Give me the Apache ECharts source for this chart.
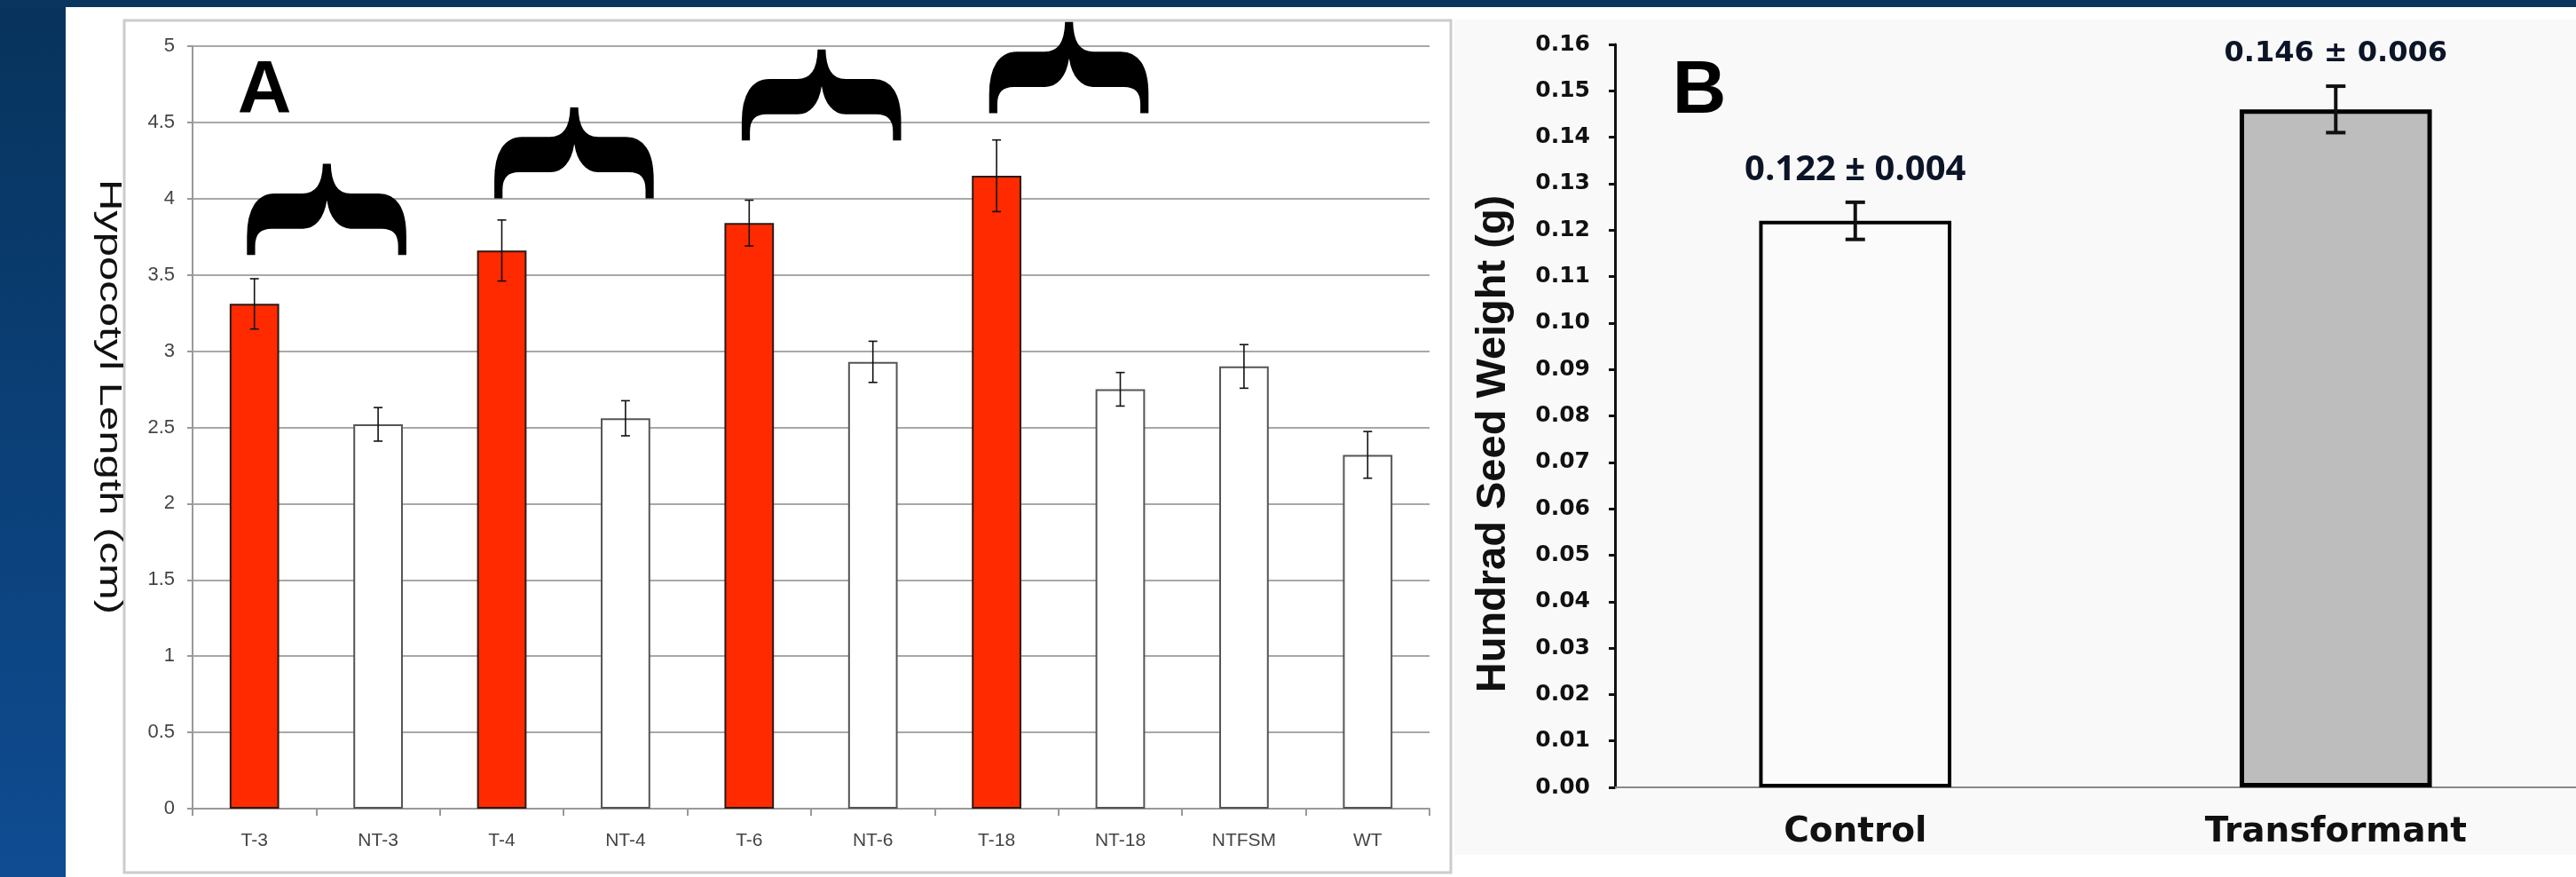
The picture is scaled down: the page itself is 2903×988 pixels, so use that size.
<!DOCTYPE html>
<html><head><meta charset="utf-8">
<script src="https://cdn.jsdelivr.net/npm/echarts@6/dist/echarts.min.js"></script>
<style>html,body{margin:0;padding:0;background:#fff;overflow:hidden}#c{width:2903px;height:988px}</style>
</head><body><div id="c"></div>
<script>
// ---------- data ----------
const categoriesA = ['T-3','NT-3','T-4','NT-4','T-6','NT-6','T-18','NT-18','NTFSM','WT'];
const hypocotylMean = [3.31, 2.52, 3.66, 2.56, 3.84, 2.93, 4.15, 2.75, 2.90, 2.32];
const hypocotylErr  = [0.165, 0.11, 0.20, 0.115, 0.15, 0.135, 0.235, 0.11, 0.143, 0.153];
const bracePairs = [[0,1],[2,3],[4,5],[6,7]];
const braceBase  = [3.65, 4.02, 4.40, 4.58];
const categoriesB = ['Control','Transformant'];
const seedMean = [0.122, 0.146];
const seedErr  = [0.004, 0.005];
const seedLabels = ['0.122 \u00b1 0.004', '0.146 \u00b1 0.006'];
const titleA = 'Hypocotyl Length (cm)';
const titleB = 'Hundrad Seed Weight (g)';

// ---------- chart ----------
const chart = echarts.init(document.getElementById('c'), null, {renderer:'canvas'});
const RED = '#ff2a00';
const seedLabelFonts = ['bold 40px "Open Sans"', 'bold 32px "DejaVu Sans"'];

function errRenderer(capHalf, lw, withLabel){
  return function(params, api){
    const i = params.dataIndex;
    const top = api.coord([api.value(0), api.value(2)]);
    const bot = api.coord([api.value(0), api.value(1)]);
    const x = top[0];
    const st = {stroke:'#111', lineWidth:lw};
    const ch = [
      {type:'line', shape:{x1:x,y1:top[1],x2:x,y2:bot[1]}, style:st},
      {type:'line', shape:{x1:x-capHalf,y1:top[1],x2:x+capHalf,y2:top[1]}, style:st},
      {type:'line', shape:{x1:x-capHalf,y1:bot[1],x2:x+capHalf,y2:bot[1]}, style:st}
    ];
    if (withLabel) {
      ch.push({type:'text', x:x, y:top[1]-36, style:{text:seedLabels[i], font:seedLabelFonts[i], fill:'#0c1428', align:'center', verticalAlign:'middle'}});
    }
    return {type:'group', children:ch};
  };
}

function backgrounds(){
  return [
    {type:'rect', id:'blue', z:-10, shape:{x:0,y:0,width:74,height:988},
      style:{fill:new echarts.graphic.LinearGradient(0,0,0,1,[{offset:0,color:'#07335c'},{offset:1,color:'#0f4c92'}])}},
    {type:'rect', id:'topband', z:-9, shape:{x:0,y:0,width:2903,height:8}, style:{fill:'#0a355e'}},
    {type:'rect', id:'boxA', z:-10, shape:{x:140,y:23,width:1495,height:960}, style:{fill:'#ffffff', stroke:'#cccccc', lineWidth:3}},
    {type:'rect', id:'bgB', z:-10, shape:{x:1639,y:22,width:1264,height:941}, style:{fill:'#f9f9f9'}},
    {type:'text', id:'titleA', z:50, x:122.5, y:447, rotation:-Math.PI/2, scaleX:1.4, scaleY:1,
      style:{text:titleA, font:'35px "Liberation Sans"', fill:'#111', align:'center', verticalAlign:'middle'}},
    {type:'text', id:'titleB', z:50, x:1683, y:500, rotation:Math.PI/2,
      style:{text:titleB, font:'bold 47px "Liberation Sans"', fill:'#111', align:'center', verticalAlign:'middle'}},
    {type:'text', id:'letA', z:50, x:298, y:104, style:{text:'A', font:'bold 84px "Liberation Sans"', fill:'#000', align:'center', verticalAlign:'middle'}},
    {type:'text', id:'letB', z:50, x:1915, y:104, style:{text:'B', font:'bold 84px "Liberation Sans"', fill:'#000', align:'center', verticalAlign:'middle'}}
  ];
}

const option = {
  backgroundColor:'#ffffff',
  animation:false,
  grid:[
    {left:217, top:52, width:1394, height:859},
    {left:1820, top:50, width:1128, height:837}
  ],
  xAxis:[
    {type:'category', gridIndex:0, data:categoriesA,
      axisLine:{lineStyle:{color:'#999', width:2}},
      axisTick:{show:true, length:8, lineStyle:{color:'#999', width:2}},
      axisLabel:{color:'#444', fontSize:21, fontFamily:'Liberation Sans', margin:26, interval:0}},
    {type:'category', gridIndex:1, data:categoriesB,
      axisLine:{lineStyle:{color:'#888', width:2}},
      axisTick:{show:false},
      axisLabel:{color:'#111', fontSize:39, fontWeight:'bold', fontFamily:'DejaVu Sans', margin:31, interval:0}}
  ],
  yAxis:[
    {type:'value', gridIndex:0, min:0, max:5, interval:0.5,
      axisLine:{show:true, lineStyle:{color:'#999', width:2}},
      axisTick:{show:true, length:6, lineStyle:{color:'#999', width:2}},
      splitLine:{show:true, lineStyle:{color:'#a8a8a8', width:2}},
      axisLabel:{color:'#444', fontSize:22, fontFamily:'Liberation Sans', margin:20}},
    {type:'value', gridIndex:1, min:0, max:0.16, interval:0.01,
      axisLine:{show:true, lineStyle:{color:'#111', width:3}},
      axisTick:{show:true, length:7, lineStyle:{color:'#111', width:3}},
      splitLine:{show:false},
      axisLabel:{color:'#111', fontSize:25, fontWeight:'bold', fontFamily:'DejaVu Sans', margin:28,
        formatter:function(v){return v.toFixed(2);}}},
    {type:'value', gridIndex:1, min:0, max:0.16, interval:0.02,
      axisLine:{show:false},
      axisTick:{show:true, length:15, lineStyle:{color:'#111', width:3}},
      splitLine:{show:false},
      axisLabel:{show:false}}
  ],
  series:[
    {type:'bar', xAxisIndex:0, yAxisIndex:0, barWidth:'40%', z:2,
      data: hypocotylMean.map(function(v,i){
        const t = categoriesA[i].indexOf('T-')===0;
        return {value:v, itemStyle:{color: t?RED:'#ffffff', borderColor: t?'#2a1a15':'#555', borderWidth:2}};
      })},
    {type:'custom', xAxisIndex:0, yAxisIndex:0, z:5,
      renderItem: errRenderer(5, 1.6, false),
      data: hypocotylMean.map(function(v,i){return [i, v-hypocotylErr[i], v+hypocotylErr[i]];})},
    {type:'bar', xAxisIndex:1, yAxisIndex:1, barWidth:'40%', z:2,
      data: seedMean.map(function(v,i){
        return {value:v, itemStyle:{color: i===0?'#fbfbfb':'#bdbdbd', borderColor:'#000', borderWidth: i===0?4:5}};
      })},
    {type:'custom', xAxisIndex:1, yAxisIndex:1, z:5,
      renderItem: errRenderer(11, 4, true),
      data: seedMean.map(function(v,i){return [i, v-seedErr[i], v+seedErr[i]];})}
  ],
  graphic: backgrounds()
};
chart.setOption(option);

// braces above each transgenic / non-transgenic pair
const braces = bracePairs.map(function(p,k){
  const a = chart.convertToPixel({xAxisIndex:0, yAxisIndex:0}, [p[0], braceBase[k]]);
  const b = chart.convertToPixel({xAxisIndex:0, yAxisIndex:0}, [p[1], braceBase[k]]);
  return {type:'text', id:'brace'+k, z:40, x:(a[0]+b[0])/2 + 7, y:a[1]-47,
    rotation:-Math.PI/2, scaleX:1.59, scaleY:1.085,
    style:{text:'{', font:'bold 200px "Liberation Serif"', fill:'#000', align:'center', verticalAlign:'middle'}};
});
chart.setOption({graphic: backgrounds().concat(braces)});
</script></body></html>
